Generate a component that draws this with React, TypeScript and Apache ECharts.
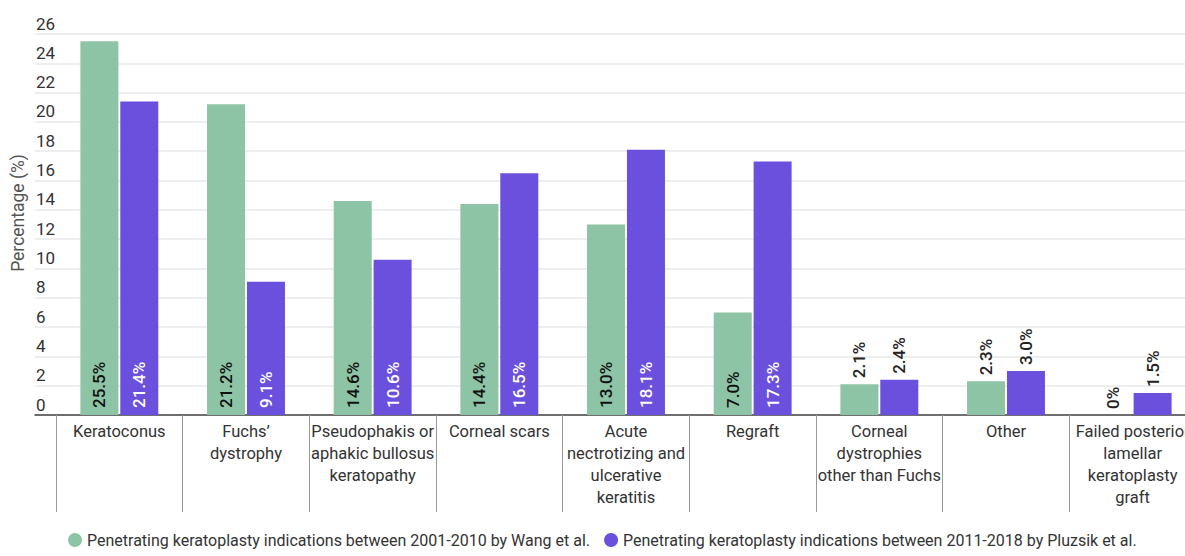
import React, { useEffect, useRef } from "react";
import * as echarts from "echarts";

// Indications for penetrating keratoplasty, two study periods
const categories = [
  "Keratoconus",
  "Fuchs’\ndystrophy",
  "Pseudophakis or\naphakic bullosus\nkeratopathy",
  "Corneal scars",
  "Acute\nnectrotizing and\nulcerative\nkeratitis",
  "Regraft",
  "Corneal\ndystrophies\nother than Fuchs",
  "Other",
  "Failed posterior\nlamellar\nkeratoplasty\ngraft",
];
const wang2001to2010 = [25.5, 21.2, 14.6, 14.4, 13.0, 7.0, 2.1, 2.3, 0];
const pluzsik2011to2018 = [21.4, 9.1, 10.6, 16.5, 18.1, 17.3, 2.4, 3.0, 1.5];
const seriesNames = [
  "Penetrating keratoplasty indications between 2001-2010 by Wang et al.",
  "Penetrating keratoplasty indications between 2011-2018 by Pluzsik et al.",
];

const GREEN = "#8dc4a5";
const PURPLE = "#6b4fdd";
const FONT = "Roboto, 'Noto Sans', sans-serif";
const OUTSIDE_BELOW = 4; // values below this get their label above the bar

function labelled(values: number[], insideColor: string) {
  return values.map((v) => {
    const outside = v < OUTSIDE_BELOW;
    return {
      value: v,
      label: {
        show: true,
        position: outside ? "top" : "insideBottom",
        distance: outside ? 6 : 7,
        rotate: 90,
        align: "left",
        verticalAlign: "middle",
        color: outside ? "#222" : insideColor,
        fontSize: 17,
        fontWeight: 500,
        fontFamily: FONT,
        formatter: (p: any) => (p.value === 0 ? "0%" : p.value.toFixed(1) + "%"),
      },
    };
  });
}

export default function App() {
  const ref = useRef<HTMLDivElement>(null);

  useEffect(() => {
    if (!ref.current) return;
    const chart = echarts.init(ref.current, undefined, { renderer: "svg" });
    const top = 34;
    const bottom = 141;

    chart.setOption({
      animation: false,
      backgroundColor: "#ffffff",
      textStyle: { fontFamily: FONT },
      grid: [
        // background grid: gridlines, tick labels and the baseline
        { left: 35, right: 0, top, bottom, containLabel: false, outerBoundsMode: "none" },
        // bars; the last category runs past the right edge
        { left: 56, width: 1140, top, bottom, containLabel: false, outerBoundsMode: "none" },
      ],
      xAxis: [
        {
          gridIndex: 0,
          type: "value",
          min: 0,
          max: 1,
          axisLine: { show: true, onZero: false, lineStyle: { color: "#444", width: 1.5 } },
          axisTick: { show: false },
          axisLabel: { show: false },
          splitLine: { show: false },
        },
        {
          gridIndex: 1,
          type: "category",
          data: categories,
          axisLine: { show: false },
          axisTick: {
            show: true,
            length: 97,
            lineStyle: { color: "#999", width: 1 },
          },
          axisLabel: {
            interval: 0,
            color: "#333",
            fontSize: 16.5,
            lineHeight: 22,
            margin: 5,
            fontFamily: FONT,
            align: "center",
          },
        },
      ],
      yAxis: [
        {
          gridIndex: 0,
          type: "value",
          min: 0,
          max: 26,
          interval: 2,
          axisLine: { show: false },
          axisTick: { show: false },
          axisLabel: {
            inside: true,
            margin: 1,
            align: "left",
            verticalAlign: "bottom",
            padding: [0, 0, 2, 0],
            color: "#333",
            fontSize: 17,
            fontFamily: FONT,
          },
          splitLine: { show: true, lineStyle: { color: "#e8e8e8", width: 1.5 } },
          z: 0,
        },
        {
          gridIndex: 1,
          type: "value",
          min: 0,
          max: 26,
          interval: 2,
          show: false,
        },
      ],
      legend: {
        bottom: 3,
        left: 63,
        icon: "circle",
        itemWidth: 14,
        itemHeight: 14,
        itemGap: 14,
        textStyle: { color: "#333", fontSize: 16, fontFamily: FONT },
        data: seriesNames,
      },
      graphic: [
        {
          type: "text",
          x: 18,
          y: 213,
          rotation: Math.PI / 2,
          style: {
            text: "Percentage (%)",
            fontSize: 17.5,
            fontFamily: FONT,
            fill: "#555",
            align: "center",
            verticalAlign: "middle",
          },
        },
      ],
      series: [
        {
          name: seriesNames[0],
          type: "bar",
          xAxisIndex: 1,
          yAxisIndex: 1,
          barWidth: 38,
          barGap: "5%",
          itemStyle: { color: GREEN },
          data: labelled(wang2001to2010, "#111"),
        },
        {
          name: seriesNames[1],
          type: "bar",
          xAxisIndex: 1,
          yAxisIndex: 1,
          barWidth: 38,
          barGap: "5%",
          itemStyle: { color: PURPLE },
          data: labelled(pluzsik2011to2018, "#ffffff"),
        },
      ],
    });

    return () => chart.dispose();
  }, []);

  return (
    <div
      ref={ref}
      style={{ position: "fixed", left: 0, top: 0, width: 1185, height: 556 }}
    />
  );
}
